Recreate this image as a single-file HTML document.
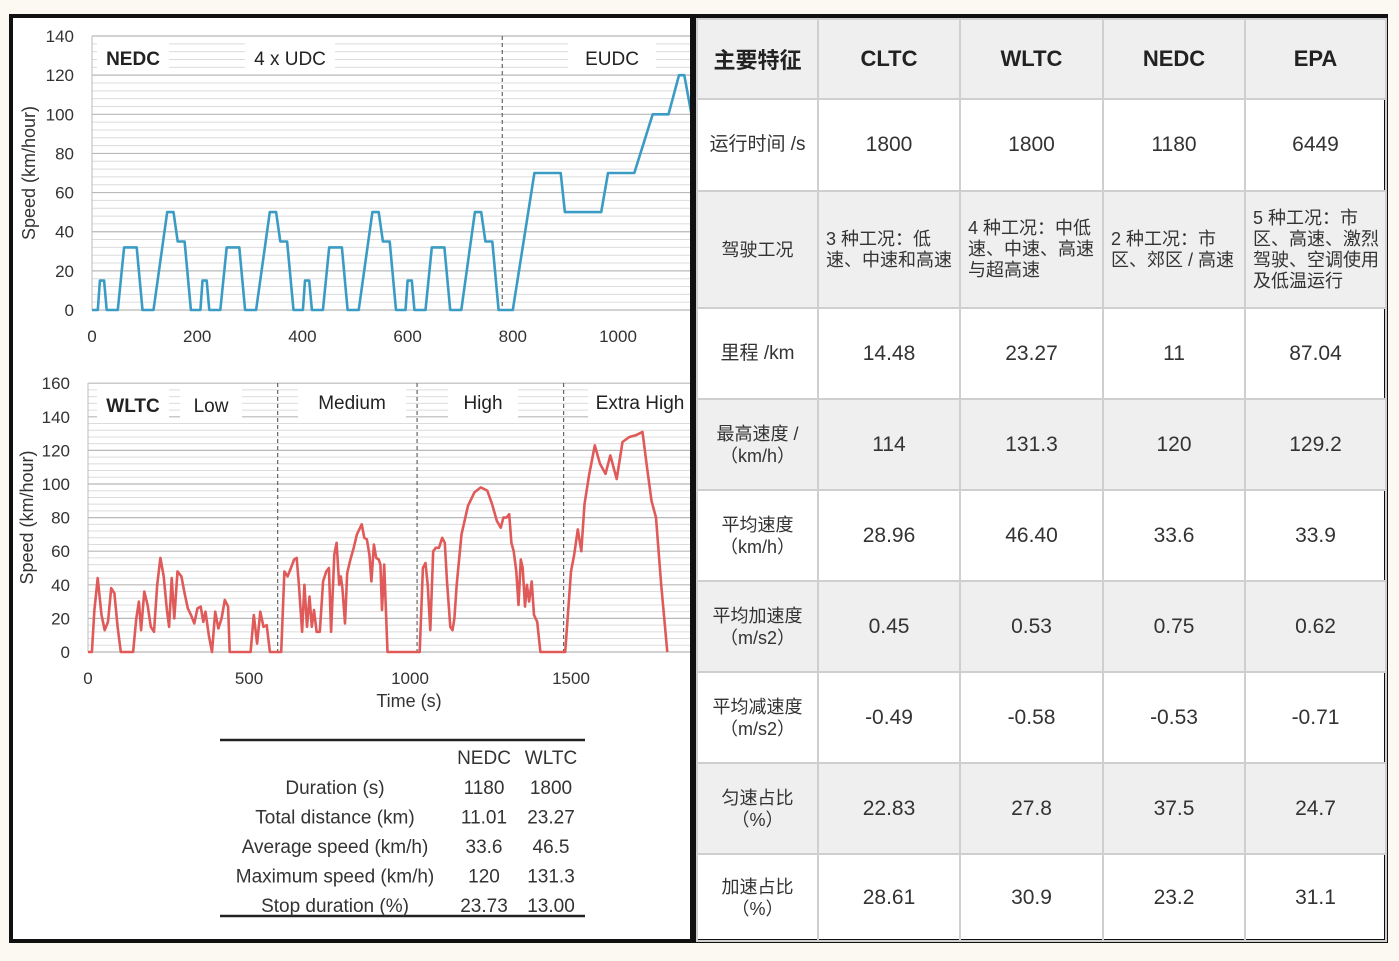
<!DOCTYPE html>
<html><head><meta charset="utf-8">
<style>
body{margin:0;width:1399px;height:961px;background:#fbf9f1;position:relative;overflow:hidden;font-family:"Liberation Sans","Noto Sans CJK SC",sans-serif;}
#frame{position:absolute;left:9px;top:14px;width:1371px;height:921px;border:4px solid #111;background:#fff;}
#divider{position:absolute;left:690px;top:14px;width:6px;height:929px;background:#111;}
#tbl{position:absolute;left:696px;top:18px;border-collapse:collapse;table-layout:fixed;font-family:"Liberation Sans","Noto Sans CJK SC",sans-serif;color:#333;}
#tbl td{border:2px solid #cfcfcf;text-align:center;font-size:21px;padding:0;}
#tbl tr.g td{background:#efefef;}
#tbl td.h{font-weight:bold;font-size:22px;color:#222;}
#tbl td.l{font-size:18px;line-height:22px;}
#tbl td.d{font-size:18px;line-height:21px;text-align:left;padding-left:7px;padding-right:2px;word-break:break-all;}
svg text{font-family:"Liberation Sans",sans-serif;}
</style></head>
<body>
<div id="frame"></div>
<svg id="charts" width="1399" height="961" style="position:absolute;left:0;top:0"></svg>
<div id="divider"></div>
<table id="tbl">
<colgroup><col style="width:121px"><col style="width:142px"><col style="width:143px"><col style="width:142px"><col style="width:141px"></colgroup>
<tr class="g" style="height:80px"><td class="h">主要特征</td><td class="h">CLTC</td><td class="h">WLTC</td><td class="h">NEDC</td><td class="h">EPA</td></tr>
<tr style="height:92px"><td class="l" style="font-size:19px">运行时间 /s</td><td>1800</td><td>1800</td><td>1180</td><td>6449</td></tr>
<tr class="g" style="height:117px"><td class="l">驾驶工况</td><td class="d">3 种工况：低速、中速和高速</td><td class="d">4 种工况：中低速、中速、高速与超高速</td><td class="d">2 种工况：市区、郊区 / 高速</td><td class="d">5 种工况：市区、高速、激烈驾驶、空调使用及低温运行</td></tr>
<tr style="height:91px"><td class="l" style="font-size:19px">里程 /km</td><td>14.48</td><td>23.27</td><td>11</td><td>87.04</td></tr>
<tr class="g" style="height:91px"><td class="l">最高速度 /<br>（km/h）</td><td>114</td><td>131.3</td><td>120</td><td>129.2</td></tr>
<tr style="height:91px"><td class="l">平均速度<br>（km/h）</td><td>28.96</td><td>46.40</td><td>33.6</td><td>33.9</td></tr>
<tr class="g" style="height:91px"><td class="l">平均加速度<br>（m/s2）</td><td>0.45</td><td>0.53</td><td>0.75</td><td>0.62</td></tr>
<tr style="height:91px"><td class="l">平均减速度<br>（m/s2）</td><td>-0.49</td><td>-0.58</td><td>-0.53</td><td>-0.71</td></tr>
<tr class="g" style="height:91px"><td class="l">匀速占比<br>（%）</td><td>22.83</td><td>27.8</td><td>37.5</td><td>24.7</td></tr>
<tr style="height:87px"><td class="l">加速占比<br>（%）</td><td>28.61</td><td>30.9</td><td>23.2</td><td>31.1</td></tr>
</table>
<script>
const nedcT=[0,11,15,23,28,49,61,85,96,117,143,155,163,176,188,195,206,210,218,223,244,256,280,291,312,338,350,358,371,383,390,401,405,413,418,439,451,475,486,507,533,545,553,566,578,585,596,600,608,613,634,646,670,681,702,728,740,748,761,773,780,800,841,891,899,968,981,1031,1066,1096,1116,1126,1160];
const nedcV=[0,0,15,15,0,0,32,32,0,0,50,50,35,35,0,0,0,15,15,0,0,32,32,0,0,50,50,35,35,0,0,0,15,15,0,0,32,32,0,0,50,50,35,35,0,0,0,15,15,0,0,32,32,0,0,50,50,35,35,0,0,0,70,70,50,50,70,70,100,100,120,120,70];
const nedcYTicks=[0,20,40,60,80,100,120,140];
const nedcXTicks=[0,200,400,600,800,1000];
const wltcT=[
0,12,20,30,42,52,62,72,82,92,
102,140,150,158,165,175,185,195,205,215,
225,235,245,252,260,268,278,290,300,310,
320,330,340,350,358,365,375,385,395,405,
415,425,435,440,505,515,525,535,545,555,
565,589,
600,610,620,630,640,648,655,665,672,680,
688,695,702,710,720,730,740,748,755,765,
772,780,785,790,798,805,815,825,835,850,
858,866,874,880,888,895,903,908,913,920,
930,1022,
1030,1040,1048,1055,1063,1072,1080,1090,1100,1108,
1115,1125,1132,1138,1145,1160,1180,1200,1220,1240,
1255,1270,1282,1290,1300,1308,1315,1322,1330,1337,
1344,1350,1357,1363,1370,1378,1385,1395,1405,1477,
1482,1500,1510,1521,1532,1542,1556,1574,1590,1607,
1622,1642,1660,1681,1701,1722,1736,1750,1764,1780,
1799];
const wltcV=[
0,0,25,44,22,13,18,38,35,15,
0,0,20,30,13,36,28,15,12,40,
56,45,25,15,44,20,48,45,35,26,
22,17,26,27,18,24,10,0,24,14,
20,31,27,0,0,22,5,24,15,16,
0,0,
0,48,45,50,55,56,40,12,40,15,
33,15,25,12,12,42,48,50,12,58,
65,40,45,38,17,47,55,62,70,76,
68,67,58,42,64,56,55,52,25,52,
0,0,
0,50,53,40,13,60,62,62,68,65,
42,15,13,20,40,70,87,95,98,96,
88,78,74,80,80,82,65,60,48,28,
55,50,27,40,30,42,22,18,0,0,
0,48,58,73,60,88,105,123,112,106,
117,103,125,128,129,131,110,90,80,40,
0];
const wltcYTicks=[0,20,40,60,80,100,120,140,160];
const wltcXTicks=[0,500,1000,1500];
const wltcPhases=[589,1022,1477];

const NS='http://www.w3.org/2000/svg';
const svg=document.getElementById('charts');
function mk(tag,attrs,parent){const e=document.createElementNS(NS,tag);for(const k in attrs)e.setAttribute(k,attrs[k]);(parent||svg).appendChild(e);return e;}

function chart(o){
  const g=mk('g',{});
  
  
  const x=t=>o.x0+t*o.sx, y=v=>o.y0-v*o.sy;
  const clip=mk('clipPath',{id:o.name+'-clip'},g);
  mk('rect',{x:o.x0,y:o.yTop,width:o.xEnd-o.x0,height:o.y0-o.yTop+3},clip);
  for(let v=0;v<=o.vmax;v+=o.minor){
    const ln=mk('line',{x1:o.x0,x2:o.xEnd,y1:y(v),y2:y(v),stroke:(v%20===0)?'#b8b8b8':'#dcdcdc','stroke-width':(v%20===0)?1.2:1},g);
    
    
  }
  mk('line',{x1:o.x0,x2:o.x0,y1:o.yTop,y2:o.y0,stroke:'#bbb'},g);
  o.boxes.forEach(b=>{
    const r=mk('rect',{x:b[0],y:b[1],width:b[2],height:b[3],fill:'#fff'},g);
    
    
    const tx=mk('text',{x:b[0]+b[2]/2,y:b[1]+b[3]/2+7,'text-anchor':'middle','font-size':19,fill:'#222','font-weight':b[5]?'bold':'normal'},g);
    tx.textContent=b[4];
    
    
  });
  o.phases.forEach(p=>{
    const l=mk('line',{x1:x(p),x2:x(p),y1:o.yTop,y2:o.y0,stroke:'#666','stroke-dasharray':'4,3','stroke-width':1.2},g);
    
    
  });
  o.yt.forEach(v=>{const t=mk('text',{x:o.x0-18,y:y(v)+6,'text-anchor':'end','font-size':17,fill:'#333'},g);t.textContent=v;
    });
  o.xt.forEach(v=>{const t=mk('text',{x:x(v),y:o.y0+32,'text-anchor':'middle','font-size':17,fill:'#333'},g);t.textContent=v;
    });
  const yt=mk('text',{x:0,y:0,transform:`translate(${o.yTitleX},${(o.y0+o.yTop)/2}) rotate(-90)`,'text-anchor':'middle','font-size':18,fill:'#333'},g);
  yt.textContent='Speed (km/hour)';
  
  
  const n=Math.min(o.T.length,o.V.length);
  let d='';for(let i=0;i<n;i++){d+=(i?'L':'M')+x(o.T[i]).toFixed(1)+','+y(o.V[i]).toFixed(1);}
  const p=mk('path',{d:d,fill:'none',stroke:o.color,'stroke-width':2.6,'stroke-linejoin':'round','clip-path':`url(#${o.name}-clip)`},g);
  
  
  return {g,x,y};
}
chart({name:'nedc-chart',x0:92,y0:310,sx:0.526,sy:1.957,xEnd:692,yTop:36,vmax:140,minor:4,yt:nedcYTicks,xt:nedcXTicks,T:nedcT,V:nedcV,color:'#3a9cc4',phases:[780],yTitleX:35,
  boxes:[[97,42,72,32,'NEDC',true],[245,42,90,32,'4 x UDC'],[568,42,88,32,'EUDC']]});
chart({name:'wltc-chart',x0:88,y0:652,sx:0.322,sy:1.68,xEnd:692,yTop:383,vmax:160,minor:4,yt:wltcYTicks,xt:wltcXTicks,T:wltcT,V:wltcV,color:'#e05a5a',phases:wltcPhases,yTitleX:33,
  boxes:[[97,389,72,32,'WLTC',true],[180,389,62,32,'Low'],[298,386,108,32,'Medium'],[448,386,70,32,'High'],[588,386,104,32,'Extra High']]});
const xtitle=mk('text',{x:409,y:707,'text-anchor':'middle','font-size':18,fill:'#333'});
xtitle.textContent='Time (s)';



const sumRows=['Duration (s)','Total distance (km)','Average speed (km/h)','Maximum speed (km/h)','Stop duration (%)'];
const sumNedc=['1180','11.01','33.6','120','23.73'];
const sumWltc=['1800','23.27','46.5','131.3','13.00'];
const sg=mk('g',{});


mk('line',{x1:220,x2:585,y1:740,y2:740,stroke:'#222','stroke-width':2.5},sg);
mk('line',{x1:220,x2:585,y1:916,y2:916,stroke:'#222','stroke-width':2.5},sg);
[['NEDC',484],['WLTC',551]].forEach(h=>{const t=mk('text',{x:h[1],y:764,'text-anchor':'middle','font-size':19,fill:'#333'},sg);t.textContent=h[0];
  });
sumRows.forEach((r,i)=>{
  const yy=794+i*29.5;
  const a=mk('text',{x:335,y:yy,'text-anchor':'middle','font-size':19,fill:'#333'},sg);a.textContent=r;
  
  const b=mk('text',{x:484,y:yy,'text-anchor':'middle','font-size':19,fill:'#333'},sg);b.textContent=sumNedc[i];
  
  const c=mk('text',{x:551,y:yy,'text-anchor':'middle','font-size':19,fill:'#333'},sg);c.textContent=sumWltc[i];
  
});
</script>
</body></html>
